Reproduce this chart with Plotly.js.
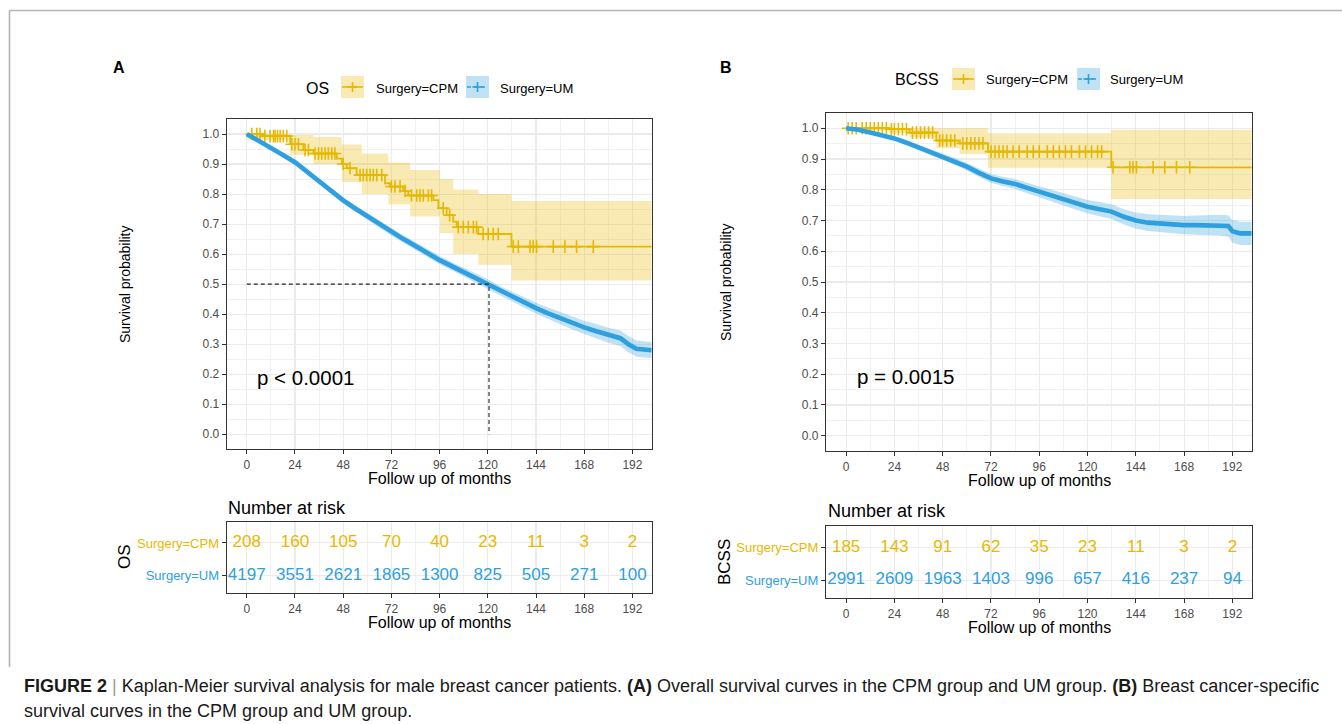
<!DOCTYPE html>
<html><head><meta charset="utf-8">
<script src="https://cdn.plot.ly/plotly-3.0.1.min.js"></script>
<style>html,body{margin:0;padding:0;background:#fff}#chart{width:1342px;height:724px}</style>
</head><body><div id="chart"></div>
<script>
// ---------- DATA ----------
const monthTicks = [0, 24, 48, 72, 96, 120, 144, 168, 192];
const groups = ['Surgery=CPM', 'Surgery=UM'];

// Panel A - OS
const osCpmTime = [0, 8, 21.6, 28.2, 33.2, 44.8, 47.3, 49.8, 54.7, 68.8, 71.3, 77.9, 80.4, 92.9, 95.4, 99.5, 102.8, 104.5, 115.3, 131.8, 201.6];
const osCpmSurv = [1.0, 0.993, 0.966, 0.947, 0.935, 0.918, 0.90, 0.886, 0.863, 0.836, 0.825, 0.81, 0.795, 0.78, 0.753, 0.73, 0.708, 0.69, 0.667, 0.625, 0.625];
const osCpmCiTime = [0, 21.6, 33.2, 47.3, 57.2, 70.5, 81.3, 96.2, 102.8, 115.3, 131.8, 201.6];
const osCpmUpper = [1.0, 0.997, 0.99, 0.965, 0.935, 0.905, 0.88, 0.85, 0.815, 0.80, 0.777, 0.777];
const osCpmLower = [0.98, 0.93, 0.90, 0.84, 0.80, 0.765, 0.725, 0.67, 0.60, 0.565, 0.512, 0.512];
const osCpmCensor = [2.5, 5, 6.6, 9, 11.6, 13.3, 14.1, 15.3, 16.6, 18.2, 19.9, 22.4, 24, 25.7, 29, 30.7, 34, 35.7, 37.3, 39, 40.6, 42.3, 43.9, 48, 51.4, 56.4, 58, 59.7, 61.4, 63, 64.7, 67.2, 72, 73.8, 76.3, 78.8, 82, 84.6, 86.2, 87.9, 90.4, 92, 97.8, 101, 105.3, 107.8, 110.3, 112.8, 114.4, 117.7, 120.2, 122.7, 125.2, 132.7, 135.2, 141, 142.6, 144.3, 152.6, 158.4, 164.2, 172.5];

const osUmTime = [0, 6, 12, 18, 24, 30, 36, 42, 48, 54, 60, 66, 72, 78, 84, 90, 96, 102, 108, 114, 120, 126, 132, 138, 144, 150, 156, 162, 168, 174, 180, 186, 190, 194, 201.6];
const osUmSurv = [1.0, 0.978, 0.955, 0.93, 0.906, 0.874, 0.842, 0.809, 0.779, 0.752, 0.726, 0.699, 0.673, 0.65, 0.627, 0.603, 0.58, 0.56, 0.54, 0.52, 0.50, 0.478, 0.458, 0.44, 0.42, 0.403, 0.387, 0.37, 0.356, 0.343, 0.33, 0.32, 0.30, 0.285, 0.28];
const osUmLower = [1.0, 0.973, 0.949, 0.923, 0.898, 0.866, 0.833, 0.8, 0.769, 0.742, 0.715, 0.688, 0.661, 0.638, 0.614, 0.59, 0.566, 0.546, 0.525, 0.505, 0.484, 0.462, 0.441, 0.422, 0.402, 0.384, 0.367, 0.349, 0.334, 0.319, 0.305, 0.294, 0.273, 0.258, 0.253];
const osUmUpper = [1.0, 0.983, 0.961, 0.937, 0.914, 0.882, 0.851, 0.818, 0.789, 0.762, 0.737, 0.71, 0.685, 0.662, 0.64, 0.616, 0.594, 0.574, 0.555, 0.535, 0.516, 0.494, 0.475, 0.458, 0.438, 0.422, 0.407, 0.391, 0.378, 0.367, 0.355, 0.346, 0.327, 0.312, 0.307];
const osMedianUM = 120.6;
const osMedianLevel = 0.5;
const osPText = 'p < 0.0001';
const osRiskCPM = [208, 160, 105, 70, 40, 23, 11, 3, 2];
const osRiskUM = [4197, 3551, 2621, 1865, 1300, 825, 505, 271, 100];

// Panel B - BCSS
const bcCpmTime = [0, 21.6, 31.5, 44.8, 56.4, 70.5, 131.8, 201.6];
const bcCpmSurv = [1.0, 0.997, 0.986, 0.96, 0.951, 0.924, 0.873, 0.873];
const bcCpmCiTime = [0, 21.6, 31.5, 44.8, 56.4, 70.5, 131.8, 201.6];
const bcCpmUpper = [1.0, 1.0, 1.0, 1.0, 1.0, 0.984, 0.995, 0.995];
const bcCpmLower = [0.995, 0.985, 0.97, 0.935, 0.916, 0.872, 0.77, 0.77];
const bcCpmCensor = [1, 3, 5, 8, 10, 12, 14, 16, 18, 20, 22.5, 24, 26, 28, 30, 33, 35, 37, 39, 41, 43, 46.5, 48, 50, 52, 54, 58, 60, 62, 64, 66, 68, 72, 74, 76, 78, 80, 83, 86, 90, 93, 96, 100, 103, 106, 109, 112, 116, 119, 122, 125, 127, 132.7, 141, 142.6, 144.3, 152.6, 158.4, 164.2, 170.8];

const bcUmTime = [0, 6, 12, 18, 24, 30, 36, 42, 48, 54, 60, 66, 72, 78, 84, 90, 96, 102, 108, 114, 120, 126, 132, 138, 144, 150, 156, 162, 168, 174, 180, 186, 190, 192, 196, 201.6];
const bcUmSurv = [1.0, 0.995, 0.986, 0.977, 0.967, 0.953, 0.938, 0.923, 0.908, 0.892, 0.875, 0.855, 0.837, 0.827, 0.819, 0.806, 0.794, 0.782, 0.769, 0.757, 0.745, 0.737, 0.729, 0.712, 0.70, 0.693, 0.69, 0.688, 0.685, 0.685, 0.685, 0.685, 0.682, 0.665, 0.658, 0.658];
const bcUmLower = [1.0, 0.992, 0.982, 0.972, 0.961, 0.946, 0.93, 0.914, 0.898, 0.881, 0.863, 0.842, 0.823, 0.812, 0.803, 0.789, 0.776, 0.763, 0.749, 0.736, 0.723, 0.714, 0.705, 0.687, 0.674, 0.666, 0.662, 0.659, 0.655, 0.654, 0.653, 0.651, 0.647, 0.628, 0.62, 0.62];
const bcUmUpper = [1.0, 0.998, 0.99, 0.982, 0.973, 0.96, 0.946, 0.932, 0.918, 0.903, 0.887, 0.868, 0.851, 0.842, 0.835, 0.823, 0.812, 0.801, 0.789, 0.778, 0.767, 0.76, 0.753, 0.737, 0.726, 0.72, 0.718, 0.717, 0.715, 0.716, 0.717, 0.719, 0.717, 0.702, 0.696, 0.696];
const bcPText = 'p = 0.0015';
const bcRiskCPM = [185, 143, 91, 62, 35, 23, 11, 3, 2];
const bcRiskUM = [2991, 2609, 1963, 1403, 996, 657, 416, 237, 94];

// ---------- STYLE / LAYOUT ----------
const W = 1342, H = 724;
const PX = v => v / W, PY = v => 1 - v / H;
const YEL = '#E7B800', BLU = '#2E9FDF';
const YEL_F = 'rgba(231,184,0,0.30)', BLU_F = 'rgba(46,159,223,0.30)';
const FONT = 'Liberation Sans, Arial, sans-serif';

function stepAt(t, times, vals) {
  let v = vals[0];
  for (let i = 0; i < times.length; i++) if (times[i] <= t) v = vals[i];
  return v;
}

function kmTraces(xa, ya, d) {
  const base = {xaxis: xa, yaxis: ya, hoverinfo: 'skip', showlegend: false};
  return [
    Object.assign({}, base, {x: d.cpmCiT, y: d.cpmLo, mode: 'lines', line: {shape: 'hv', width: 0, color: YEL}}),
    Object.assign({}, base, {x: d.cpmCiT, y: d.cpmUp, mode: 'lines', line: {shape: 'hv', width: 0, color: YEL}, fill: 'tonexty', fillcolor: YEL_F}),
    Object.assign({}, base, {x: d.umT, y: d.umLo, mode: 'lines', line: {width: 0, color: BLU}}),
    Object.assign({}, base, {x: d.umT, y: d.umUp, mode: 'lines', line: {width: 0, color: BLU}, fill: 'tonexty', fillcolor: BLU_F}),
    Object.assign({}, base, {x: d.cpmT, y: d.cpmS, mode: 'lines', line: {shape: 'hv', width: 1.8, color: YEL}, name: groups[0]}),
    Object.assign({}, base, {x: d.cens, y: d.cens.map(t => stepAt(t, d.cpmT, d.cpmS)), mode: 'markers',
      marker: {symbol: 'cross-thin', size: 9, line: {width: 1.6, color: YEL}, color: YEL}}),
    Object.assign({}, base, {x: d.umT, y: d.umS, mode: 'lines', line: {width: 4.6, color: BLU}, name: groups[1]})
  ];
}
function riskTraces(xa, ya, cpm, um) {
  const base = {xaxis: xa, yaxis: ya, hoverinfo: 'skip', showlegend: false, mode: 'text', textposition: 'middle center'};
  return [
    Object.assign({}, base, {x: monthTicks, y: monthTicks.map(() => 1), text: cpm.map(String), textfont: {family: FONT, size: 17, color: YEL}}),
    Object.assign({}, base, {x: monthTicks, y: monthTicks.map(() => 0), text: um.map(String), textfont: {family: FONT, size: 17, color: BLU}})
  ];
}

const data = [].concat(
  kmTraces('x', 'y', {cpmCiT: osCpmCiTime, cpmLo: osCpmLower, cpmUp: osCpmUpper, umT: osUmTime, umLo: osUmLower, umUp: osUmUpper, cpmT: osCpmTime, cpmS: osCpmSurv, cens: osCpmCensor, umS: osUmSurv}),
  [{x: [0, osMedianUM, osMedianUM], y: [osMedianLevel, osMedianLevel, 0], xaxis: 'x', yaxis: 'y', mode: 'lines', line: {color: '#222', width: 1.1, dash: '4px,3px'}, hoverinfo: 'skip', showlegend: false}],
  riskTraces('x2', 'y2', osRiskCPM, osRiskUM),
  kmTraces('x3', 'y3', {cpmCiT: bcCpmCiTime, cpmLo: bcCpmLower, cpmUp: bcCpmUpper, umT: bcUmTime, umLo: bcUmLower, umUp: bcUmUpper, cpmT: bcCpmTime, cpmS: bcCpmSurv, cens: bcCpmCensor, umS: bcUmSurv}),
  riskTraces('x4', 'y4', bcRiskCPM, bcRiskUM)
);

const XR = [-10, 201.6];
function xAx(l, r, anchor) {
  return {domain: [PX(l), PX(r)], anchor: anchor, range: XR, tickmode: 'array', tickvals: monthTicks, ticktext: monthTicks.map(String),
    ticks: 'outside', ticklen: 4, tickcolor: '#333', tickfont: {family: FONT, size: 12, color: '#4D4D4D'},
    showgrid: true, gridcolor: '#EBEBEB', gridwidth: 1.1, minor: {tickvals: [12, 36, 60, 84, 108, 132, 156, 180], showgrid: true, gridcolor: '#EEEEEE', gridwidth: 0.8, ticks: ''},
    showline: true, mirror: true, linecolor: '#333', linewidth: 1.1, zeroline: false, fixedrange: true};
}
function yKm(t, b, anchor) {
  return {domain: [PY(b), PY(t)], anchor: anchor, range: [-0.05, 1.05], tickmode: 'array',
    tickvals: [0, 0.1, 0.2, 0.3, 0.4, 0.5, 0.6, 0.7, 0.8, 0.9, 1.0], tickformat: '.1f',
    ticks: 'outside', ticklen: 4, tickcolor: '#333', tickfont: {family: FONT, size: 12, color: '#4D4D4D'},
    showgrid: true, gridcolor: '#EBEBEB', gridwidth: 1.1, minor: {tickvals: [0.05, 0.15, 0.25, 0.35, 0.45, 0.55, 0.65, 0.75, 0.85, 0.95], showgrid: true, gridcolor: '#EEEEEE', gridwidth: 0.8, ticks: ''},
    showline: true, mirror: true, linecolor: '#333', linewidth: 1.1, zeroline: false, fixedrange: true};
}
function yRisk(t, b, anchor) {
  return {domain: [PY(b), PY(t)], anchor: anchor, range: [-0.55, 1.65], tickmode: 'array', tickvals: [1, 0],
    ticktext: ['<span style="color:' + YEL + '">' + groups[0] + '</span>', '<span style="color:' + BLU + '">' + groups[1] + '</span>'],
    ticks: 'outside', ticklen: 4, tickcolor: '#333', tickfont: {family: FONT, size: 13, color: '#4D4D4D'},
    showgrid: true, gridcolor: '#EBEBEB', showline: true, mirror: true, linecolor: '#333', linewidth: 1.1, zeroline: false, fixedrange: true};
}

const ann = [];
function txt(x, y, s, o) {
  ann.push(Object.assign({xref: 'paper', yref: 'paper', x: PX(x), y: PY(y), text: s, showarrow: false, xanchor: 'center', yanchor: 'middle',
    font: {family: FONT, size: 14, color: '#000'}}, o || {}));
}
// panel letters
txt(119, 68, '<b>A</b>', {font: {family: FONT, size: 16, color: '#000'}});
txt(726, 67, '<b>B</b>', {font: {family: FONT, size: 16, color: '#000'}});
// legends
txt(331, 88, 'OS', {xanchor: 'right', font: {family: FONT, size: 16, color: '#000'}});
txt(374, 88, groups[0], {xanchor: 'left', font: {family: FONT, size: 13, color: '#000'}});
txt(498, 88, groups[1], {xanchor: 'left', font: {family: FONT, size: 13, color: '#000'}});
txt(941, 80, 'BCSS', {xanchor: 'right', font: {family: FONT, size: 16, color: '#000'}});
txt(984, 80, groups[0], {xanchor: 'left', font: {family: FONT, size: 13, color: '#000'}});
txt(1108, 80, groups[1], {xanchor: 'left', font: {family: FONT, size: 13, color: '#000'}});
// axis titles
txt(439, 478, 'Follow up of months', {font: {family: FONT, size: 16, color: '#000'}});
txt(125, 284, 'Survival probability', {textangle: -90, font: {family: FONT, size: 14, color: '#000'}});
txt(439, 622, 'Follow up of months', {font: {family: FONT, size: 16, color: '#000'}});
txt(124, 557, 'OS', {textangle: -90, font: {family: FONT, size: 17, color: '#000'}});
txt(1039, 480, 'Follow up of months', {font: {family: FONT, size: 16, color: '#000'}});
txt(726, 282, 'Survival probability', {textangle: -90, font: {family: FONT, size: 14, color: '#000'}});
txt(1039, 627, 'Follow up of months', {font: {family: FONT, size: 16, color: '#000'}});
txt(724, 562, 'BCSS', {textangle: -90, font: {family: FONT, size: 17, color: '#000'}});
// risk table titles
txt(226, 508, 'Number at risk', {xanchor: 'left', font: {family: FONT, size: 18, color: '#000'}});
txt(826, 511, 'Number at risk', {xanchor: 'left', font: {family: FONT, size: 18, color: '#000'}});
// p values (data coords)
ann.push({xref: 'x', yref: 'y', x: 4.3, y: 0.19, text: osPText, showarrow: false, xanchor: 'left', yanchor: 'middle', font: {family: FONT, size: 20.5, color: '#000'}});
ann.push({xref: 'x3', yref: 'y3', x: 4.3, y: 0.194, text: bcPText, showarrow: false, xanchor: 'left', yanchor: 'middle', font: {family: FONT, size: 20.5, color: '#000'}});
// caption
const CAPF = 'Liberation Sans Narrow, Arial Narrow, sans-serif';
txt(22, 686, '<b>FIGURE 2</b> <span style="color:#9a9a9a">|</span> Kaplan-Meier survival analysis for male breast cancer patients. <b>(A)</b> Overall survival curves in the CPM group and UM group. <b>(B)</b> Breast cancer-specific',
  {xanchor: 'left', font: {family: CAPF, size: 18, color: '#1a1a1a'}});
txt(22, 711, 'survival curves in the CPM group and UM group.', {xanchor: 'left', font: {family: CAPF, size: 18, color: '#1a1a1a'}});

const shapes = [];
function rect(x0, y0, x1, y1, fill) { shapes.push({type: 'rect', xref: 'paper', yref: 'paper', x0: PX(x0), x1: PX(x1), y0: PY(y1), y1: PY(y0), fillcolor: fill, line: {width: 0}, layer: 'above'}); }
function seg(x0, y0, x1, y1, col, w, dash) { shapes.push({type: 'line', xref: 'paper', yref: 'paper', x0: PX(x0), x1: PX(x1), y0: PY(y0), y1: PY(y1), line: {color: col, width: w, dash: dash || 'solid'}, layer: 'above'}); }
function key(x0, yc, col, fill, dash) {
  rect(x0, yc - 11, x0 + 23, yc + 11, fill);
  seg(x0 + 1, yc, x0 + 22, yc, col, 1.6, dash);
  seg(x0 + 11.5, yc - 5, x0 + 11.5, yc + 5, col, 1.6);
  seg(x0 + 6.5, yc, x0 + 16.5, yc, col, 1.6);
}
key(341, 87, YEL, YEL_F);
key(466, 87, BLU, BLU_F, '4px,3px');
key(952, 79, YEL, YEL_F);
key(1077, 79, BLU, BLU_F, '4px,3px');
// outer figure frame
seg(9.5, 10.5, 1342, 10.5, '#B4B4B4', 1.6);
seg(9.5, 10.5, 9.5, 667, '#B4B4B4', 1.6);

const layout = {
  width: W, height: H, margin: {l: 0, r: 0, t: 0, b: 0}, paper_bgcolor: '#fff', plot_bgcolor: '#fff', showlegend: false,
  font: {family: FONT},
  xaxis: xAx(226.7, 651.7, 'y'), yaxis: yKm(119, 449.3, 'x'),
  xaxis2: xAx(226.7, 651.7, 'y2'), yaxis2: yRisk(522, 593, 'x2'),
  xaxis3: xAx(826, 1251.7, 'y3'), yaxis3: yKm(112.9, 451.1, 'x3'),
  xaxis4: xAx(826, 1251.7, 'y4'), yaxis4: yRisk(526, 598, 'x4'),
  annotations: ann, shapes: shapes
};
Plotly.newPlot('chart', data, layout, {displayModeBar: false, staticPlot: true});
</script></body></html>
